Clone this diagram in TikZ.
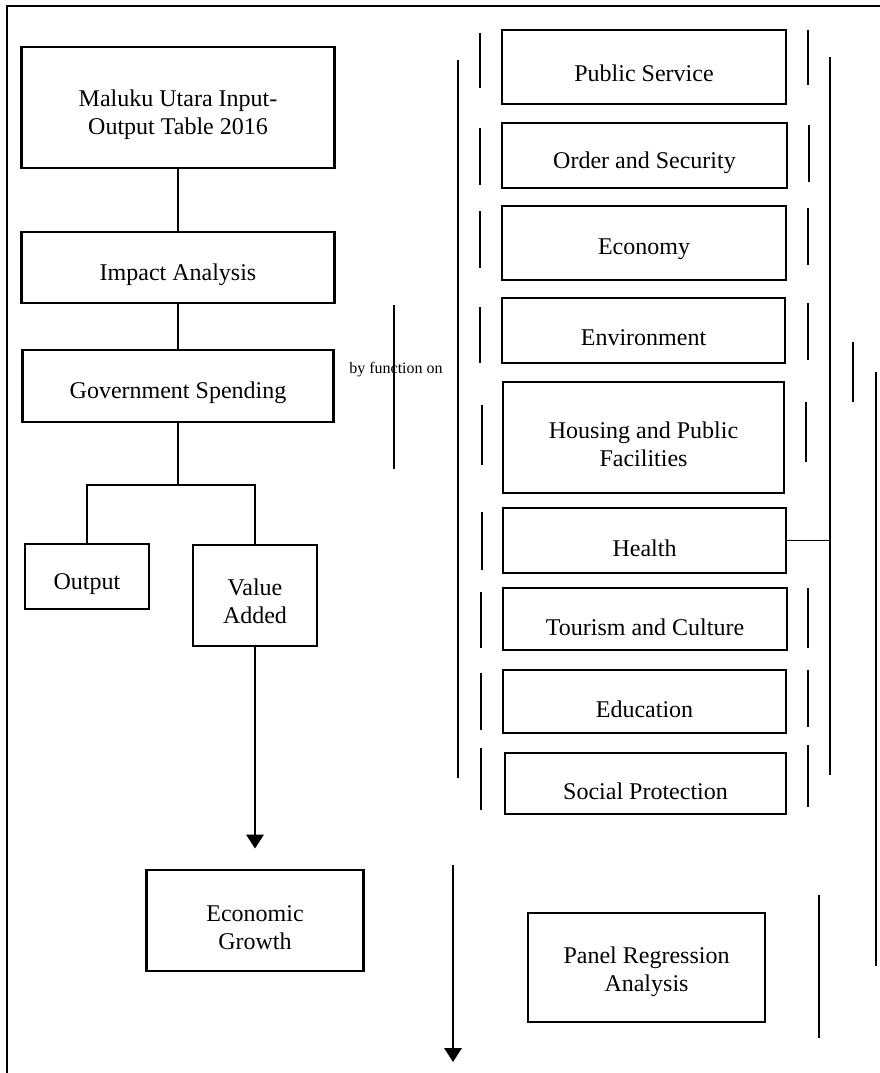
\documentclass[tikz,border=0pt]{standalone}
\usepackage{fontspec}
\setmainfont{Liberation Serif}
\usetikzlibrary{arrows.meta}
\begin{document}
\begin{tikzpicture}[x=0.75pt,y=-0.75pt,
  box/.style 2 args={draw, line width=2.2pt, minimum width=#1*0.75pt, minimum height=#2*0.75pt, inner sep=0pt},
  txt/.style={font=\fontsize{18}{21}\selectfont, align=center, inner sep=0pt},
  smalltxt/.style={font=\fontsize{12}{14}\selectfont, inner sep=0pt},
  bar/.style={line width=1.6pt},
  conn/.style={line width=1.8pt},
  arr/.style={line width=1.8pt, -{Triangle[width=13pt,length=10.5pt]}},
]
\useasboundingbox (0,0) rectangle (880,1073);
% frame
\draw[line width=2pt] (7,1080) -- (7,6) -- (890,6);

% left column
\node[box={313}{121}] (mio) at (178,107.5) {};
\node[txt] (miot) at ([yshift=-5.25pt]mio.center) {Maluku Utara Input-\\Output Table 2016};
\node[box={313}{71}] (impact) at (178,267.5) {};
\node[txt] (impactt) at ([yshift=-5.25pt]impact.center) {Impact Analysis};
\node[box={311}{72}] (gov) at (178,386) {};
\node[txt] (govt) at ([yshift=-5.25pt]gov.center) {Government Spending};
\node[box={124}{65}] (output) at (87,576.5) {};
\node[txt] (outputt) at ([yshift=-5.5pt]output.center) {Output};
\node[box={124}{101}] (va) at (255,595.5) {};
\node[txt] (vat) at ([yshift=-4.5pt]va.center) {Value\\Added};
\node[box={217}{101}] (eg) at (255,920.5) {};
\node[txt] (egt) at ([yshift=-5.25pt]eg.center) {Economic\\Growth};

\node[smalltxt] (byf) at (396,370) {by function on};

% right column
\node[box={284}{74}] (ps) at (644,67) {};
\node[txt] (pst) at ([yshift=-5pt]ps.center) {Public Service};
\node[box={285}{65}] (os) at (644.5,155.5) {};
\node[txt] (ost) at ([yshift=-5.25pt]os.center) {Order and Security};
\node[box={284}{74}] (eco) at (644,243) {};
\node[txt] (ecot) at ([yshift=-4.5pt]eco.center) {Economy};
\node[box={283}{65}] (env) at (643.5,330.5) {};
\node[txt] (envt) at ([yshift=-5.25pt]env.center) {Environment};
\node[box={281}{111}] (hou) at (643.5,437.5) {};
\node[txt] (hout) at ([yshift=-5.25pt]hou.center) {Housing and Public\\Facilities};
\node[box={283}{65}] (hea) at (644.5,540.5) {};
\node[txt] (heat) at ([yshift=-5.5pt]hea.center) {Health};
\node[box={284}{62}] (tou) at (645,619) {};
\node[txt] (tout) at ([yshift=-6pt]tou.center) {Tourism and Culture};
\node[box={283}{63}] (edu) at (644.5,701.5) {};
\node[txt] (edut) at ([yshift=-6pt]edu.center) {Education};
\node[box={281}{61}] (sp) at (645.5,783.5) {};
\node[txt] (spt) at ([yshift=-6pt]sp.center) {Social Protection};
\node[box={237}{109}] (pra) at (646.5,967.5) {};
\node[txt] (prat) at ([yshift=-3pt]pra.center) {Panel Regression\\Analysis};

% connectors, left
\draw[conn] (mio.south) -- (impact.north);
\draw[conn] (impact.south) -- (gov.north);
\coordinate (junc) at (178,485);
\draw[conn] (gov.south) -- (junc);
\draw[conn] (output.north) |- (junc) -| (va.north);
\draw[arr, shorten >=15pt] (va.south) -- (eg.north);

% long vertical lines
\draw[bar] (394,305) -- (394,469);
\draw[bar] (458,60) -- (458,778);
\coordinate (rv) at (830,57);
\draw[bar] (rv) -- (830,775);
\draw[line width=1.2pt] (hea.east) -- (hea.east -| rv);
\draw[bar] (853,342) -- (853,402);
\draw[bar] (876,372) -- (876,966);
\draw[bar] (819,895) -- (819,1038);
\coordinate (da) at (453,865);
\coordinate (db) at (453,1062);
\draw[arr] (da) -- (db);

% left dashes
\foreach \a/\b/\c in {480/33/88, 480/128/185, 480/211/268, 480/307/363, 482/405/465, 482/512/570, 481/592/648, 481/673/730, 481/748/810}
  \draw[bar] (\a,\b) -- (\a,\c);
% right dashes
\foreach \a/\b/\c in {808/30/85, 809/125/182, 808/208/265, 808/303/360, 806/402/462, 808/588/648, 808/670/727, 808/745/807}
  \draw[bar] (\a,\b) -- (\a,\c);
\end{tikzpicture}
\end{document}
